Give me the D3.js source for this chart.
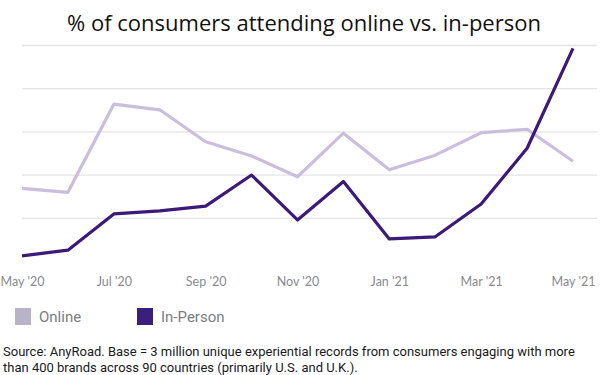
<!DOCTYPE html>
<html>
<head>
<meta charset="utf-8">
<script src="https://cdn.jsdelivr.net/npm/d3@7"></script>
<style>
  body { margin: 0; background: #fff; }
  svg { display: block; }
</style>
</head>
<body>
<div id="chart"></div>
<script>
// monthly data, May '20 .. May '21
var months = ["May '20","Jun '20","Jul '20","Aug '20","Sep '20","Oct '20","Nov '20",
              "Dec '20","Jan '21","Feb '21","Mar '21","Apr '21","May '21"];
var online   = [16.8, 15.9, 36.3, 35.0, 27.6, 24.3, 19.5, 29.6, 21.1, 24.5, 29.7, 30.5, 23.1];
var inPerson = [1.2, 2.5, 10.9, 11.6, 12.7, 19.9, 9.5, 18.4, 5.1, 5.6, 13.2, 26.1, 49.2];
var tickLabels = ["May '20","Jul '20","Sep '20","Nov '20","Jan '21","Mar '21","May '21"];
var gridValues = [10, 20, 30, 40, 50];
var seriesNames = ["Online", "In-Person"];

var w = 600, h = 375;

var svg = d3.select("#chart").append("svg")
    .attr("width", w)
    .attr("height", h);

// scales
var xScale = d3.scalePoint()
    .domain(months)
    .range([22, 573]);
var yScale = d3.scaleLinear()
    .domain([0, 50])
    .range([261, 45]);

// title
svg.append("text")
    .attr("x", 304)
    .attr("y", 31)
    .attr("text-anchor", "middle")
    .style("font-family", "'Open Sans', sans-serif")
    .style("font-size", "22px")
    .style("fill", "#111")
    .text("% of consumers attending online vs. in-person");

// gridlines
svg.append("g")
    .attr("transform", "translate(22,0)")
    .call(d3.axisLeft(yScale).tickValues(gridValues).tickSize(-575).tickFormat(""))
    .call(function(g) {
        g.select(".domain").remove();
        g.selectAll(".tick line").attr("stroke", "#e4e4e6").attr("stroke-width", 1.3);
    });

// x axis labels
svg.append("g")
    .attr("transform", "translate(0,274)")
    .call(d3.axisBottom(xScale).tickValues(tickLabels).tickSize(0))
    .call(function(g) {
        g.select(".domain").remove();
        g.selectAll(".tick text")
            .attr("dy", "0.71em")
            .style("font-family", "Lato, sans-serif")
            .style("font-size", "12.5px")
            .style("fill", "#8a8a8e");
    });

var line = d3.line()
    .x(function(d, i) { return xScale(months[i]); })
    .y(function(d) { return yScale(d); });

svg.append("path")
    .datum(online)
    .attr("fill", "none")
    .attr("stroke", "#c9bfdd")
    .attr("stroke-width", 3.2)
    .attr("stroke-linejoin", "round")
    .attr("d", line);

svg.append("path")
    .datum(inPerson)
    .attr("fill", "none")
    .attr("stroke", "#3b1a78")
    .attr("stroke-width", 3.2)
    .attr("stroke-linejoin", "round")
    .attr("d", line);

// legend
var legendColor = d3.scaleOrdinal()
    .domain(seriesNames)
    .range(["#b8b3c9", "#3a1f7d"]);
var legendX = d3.scaleOrdinal()
    .domain(seriesNames)
    .range([15, 137]);

var legend = svg.selectAll(".legend")
    .data(seriesNames)
    .enter()
    .append("g")
    .attr("class", "legend")
    .attr("transform", function(d) { return "translate(" + legendX(d) + ",308)"; });
legend.append("rect")
    .attr("width", 16)
    .attr("height", 17)
    .attr("fill", function(d) { return legendColor(d); });
legend.append("text")
    .attr("x", 24)
    .attr("y", 14)
    .style("font-family", "Roboto, sans-serif")
    .style("font-size", "15px")
    .style("fill", "#7c7c80")
    .text(function(d) { return d; });

// source note
var note = svg.append("text")
    .style("font-family", "Roboto, sans-serif")
    .style("font-size", "13px")
    .style("fill", "#1a1a1a");
note.append("tspan")
    .attr("x", 3)
    .attr("y", 356)
    .text("Source: AnyRoad. Base = 3 million unique experiential records from consumers engaging with more");
note.append("tspan")
    .attr("x", 3)
    .attr("y", 372)
    .text("than 400 brands across 90 countries (primarily U.S. and U.K.).");
</script>
</body>
</html>
